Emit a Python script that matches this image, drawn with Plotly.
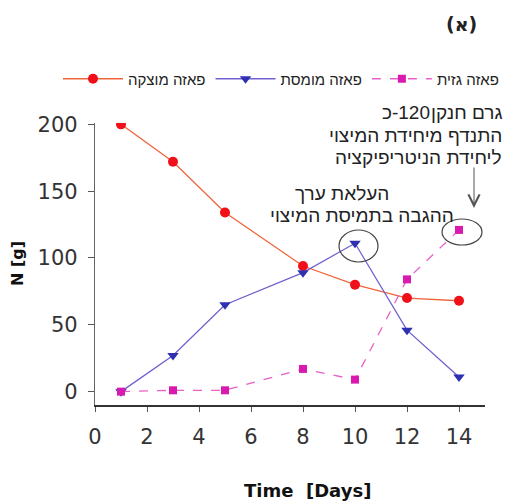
import plotly.graph_objects as go

# ---- data ----
days = [1, 3, 5, 8, 10, 12, 14]
solid_phase = [200, 172, 134, 94, 80, 70, 68]      # פאזה מוצקה
dissolved_phase = [0, 27, 65, 89, 111, 46, 11]     # פאזה מומסת
gas_phase = [0, 1, 1, 17, 9, 84, 121]              # פאזה גזית
x_ticks = [0, 2, 4, 6, 8, 10, 12, 14]
y_ticks = [0, 50, 100, 150, 200]

names = ["פאזה מוצקה", "פאזה מומסת", "פאזה גזית"]
note1 = ["כ-120 גרם חנקן", "התנדף מיחידת המיצוי", "ליחידת הניטריפיקציה"]
note2 = ["העלאת ערך", "ההגבה בתמיסת המיצוי"]

LRE, RLE, PDF, LRO = "\u202A", "\u202B", "\u202C", "\u202D"


def vis(s):
    # Hebrew words laid out left-to-right, as in the reference picture
    return LRE + " ".join(RLE + w + PDF for w in s.split(" ")) + PDF


def vis_num(w):
    # "כ-120" shown as in the reference: letter, then "-120"
    letter, num = w.split("-", 1)
    return LRO + letter + PDF + "-" + num


W, H = 506, 501
L, R, T, B = 95, 21, 123, 96
PW, PH = W - L - R, H - T - B


def px(x):
    return (x - L) / PW


def py(y):
    return (H - B - y) / PH


HEB = "Arial, Liberation Sans, DejaVu Sans, sans-serif"
NUM = "Verdana, DejaVu Sans, sans-serif"

fig = go.Figure()
fig.add_trace(go.Scatter(
    x=days, y=solid_phase, name=vis(names[0]), mode="lines+markers",
    line=dict(color="#f0643c", width=1.3),
    marker=dict(symbol="circle", size=10, color="#f0101a"),
))
fig.add_trace(go.Scatter(
    x=days, y=dissolved_phase, name=vis(names[1]), mode="lines+markers",
    line=dict(color="#7060d0", width=1.3),
    marker=dict(symbol="triangle-down", size=10, color="#2f30b0"),
))
fig.add_trace(go.Scatter(
    x=days, y=gas_phase, name=vis(names[2]), mode="lines+markers",
    line=dict(color="#e860c8", width=1.3, dash="dash"),
    marker=dict(symbol="square", size=8, color="#d81ab0"),
))

annotations = []
annotations.append(dict(text="<b>(א)</b>", x=px(461), y=py(24),
                        xref="paper", yref="paper",
                        showarrow=False, font=dict(family=NUM, size=19, color="#222"),
                        xanchor="center", yanchor="middle"))
annotations.append(dict(text="<b>Time  [Days]</b>", x=px(307), y=py(490), xref="paper", yref="paper",
                        showarrow=False, font=dict(family=NUM, size=18, color="#111"),
                        xanchor="center", yanchor="middle"))
annotations.append(dict(text="<b>N [g]</b>", x=px(17), y=py(264), xref="paper", yref="paper",
                        showarrow=False, textangle=-90, font=dict(family=NUM, size=16, color="#111"),
                        xanchor="center", yanchor="middle"))

# note 1, first line: number word and the rest as two pieces
first_word, rest = note1[0].split(" ", 1)
annotations.append(dict(text=vis(rest), x=px(504), y=py(112), xref="paper", yref="paper",
                        showarrow=False, font=dict(family=HEB, size=19, color="#222"),
                        xanchor="right", yanchor="middle"))
annotations.append(dict(text=vis_num(first_word), x=px(380), y=py(112), xref="paper", yref="paper",
                        showarrow=False, font=dict(family=HEB, size=19, color="#222"),
                        xanchor="left", yanchor="middle"))
for t, yy in zip(note1[1:], [135, 157]):
    annotations.append(dict(text=vis(t), x=px(504), y=py(yy), xref="paper", yref="paper",
                            showarrow=False, font=dict(family=HEB, size=19, color="#222"),
                            xanchor="right", yanchor="middle"))
for t, yy, xx in zip(note2, [193, 215], [342, 362]):
    annotations.append(dict(text=vis(t), x=px(xx), y=py(yy), xref="paper", yref="paper",
                            showarrow=False, font=dict(family=HEB, size=19, color="#222"),
                            xanchor="center", yanchor="middle"))
annotations.append(dict(text="", x=px(474), y=py(208), ax=0, ay=-42,
                        xref="paper", yref="paper", axref="pixel", ayref="pixel",
                        showarrow=True, arrowhead=5, arrowsize=2.2, arrowwidth=1,
                        arrowcolor="#555"))

shapes = [
    dict(type="circle", xref="paper", yref="paper",
         x0=px(339), x1=px(378), y0=py(262), y1=py(230),
         line=dict(color="#444", width=1.2)),
    dict(type="circle", xref="paper", yref="paper",
         x0=px(442), x1=px(482), y0=py(245), y1=py(219),
         line=dict(color="#444", width=1.2)),
]

fig.update_layout(
    width=W, height=H,
    margin=dict(l=L, r=R, t=T, b=B, pad=0, autoexpand=False),
    paper_bgcolor="white", plot_bgcolor="white",
    showlegend=True,
    legend=dict(orientation="h", xref="paper", yref="paper",
                x=px(58), y=py(79), xanchor="left", yanchor="middle",
                font=dict(family=HEB, size=15, color="#222"),
                itemwidth=60, tracegroupgap=0, bgcolor="rgba(0,0,0,0)"),
    annotations=annotations,
    shapes=shapes,
    xaxis=dict(range=[0, 15], tickvals=x_ticks, ticktext=[str(v) for v in x_ticks],
               showgrid=False, zeroline=False, showline=True, linecolor="#333", linewidth=1.5,
               ticks="outside", ticklen=5, tickcolor="#555",
               tickfont=dict(family=NUM, size=21, color="#333"), ticklabelstandoff=7),
    yaxis=dict(range=[-10, 201], tickvals=y_ticks, ticktext=[str(v) for v in y_ticks],
               showgrid=False, zeroline=False, showline=True, linecolor="#666", linewidth=1.2,
               ticks="outside", ticklen=6, tickcolor="#555",
               tickfont=dict(family=NUM, size=21, color="#333"), ticklabelstandoff=6),
)

fig.write_html("out.html", config={"displayModeBar": False},
               post_script="document.body.style.margin='0';")
